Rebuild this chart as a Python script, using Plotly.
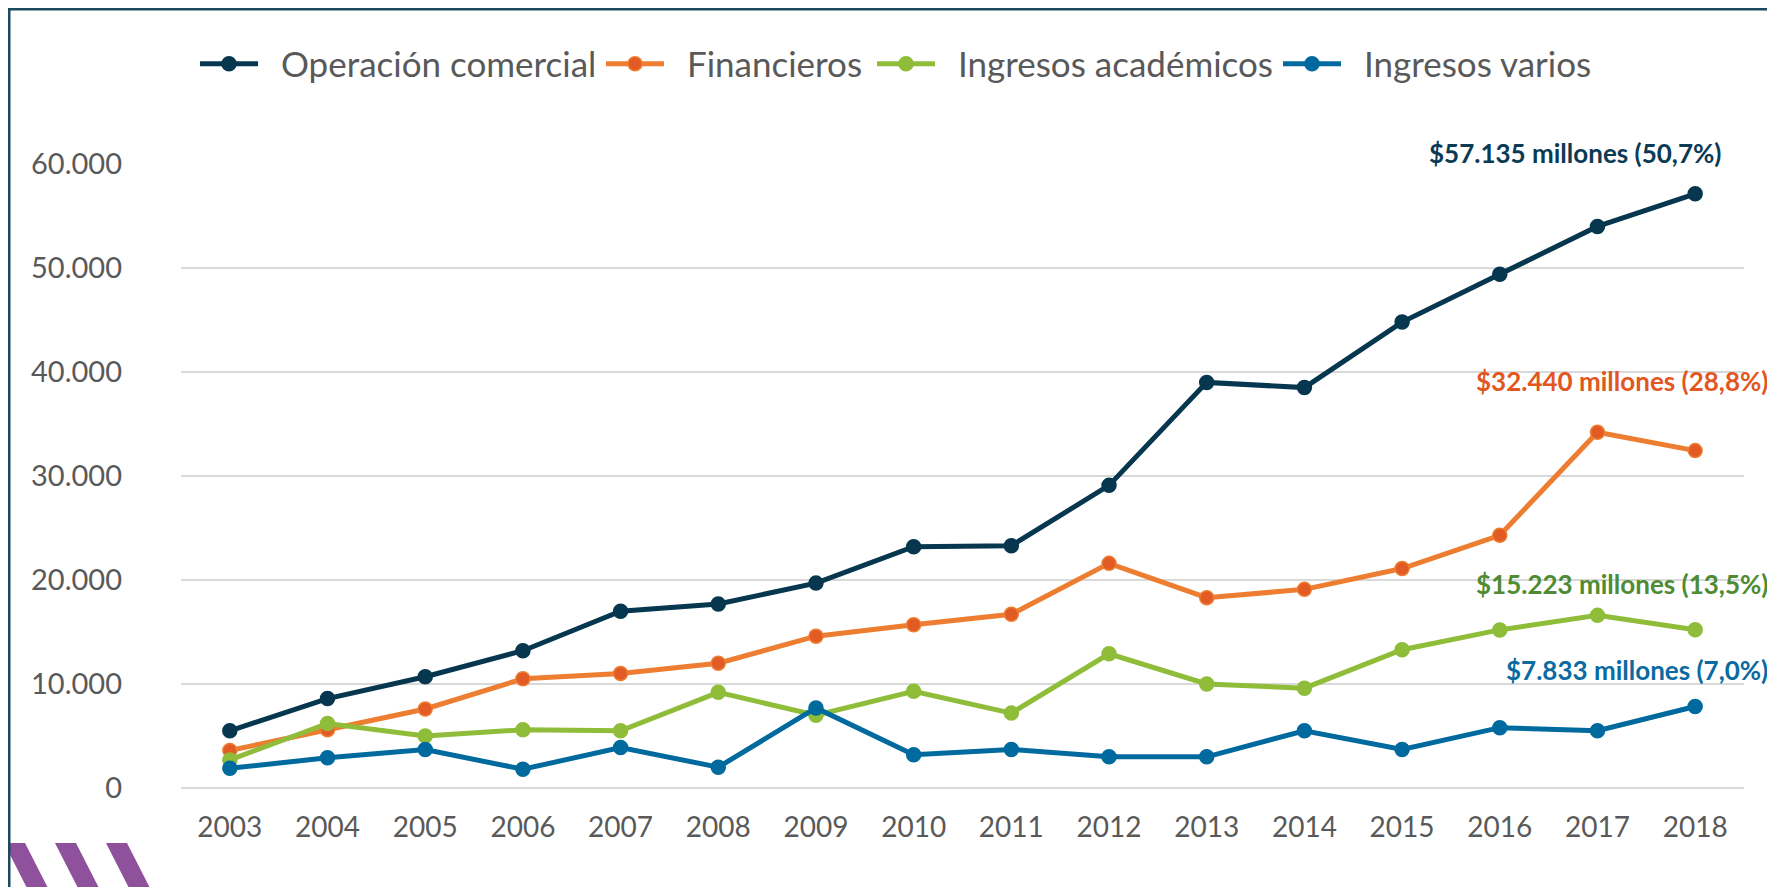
import plotly.graph_objects as go

years = [str(y) for y in range(2003, 2019)]
operacion = [5500, 8600, 10700, 13200, 17000, 17700, 19700, 23200, 23300, 29100, 39000, 38500, 44800, 49400, 54000, 57135]
financieros = [3600, 5600, 7600, 10500, 11000, 12000, 14600, 15700, 16700, 21600, 18300, 19100, 21100, 24300, 34200, 32440]
academicos = [2700, 6200, 5000, 5600, 5500, 9200, 7000, 9300, 7200, 12900, 10000, 9600, 13300, 15200, 16600, 15223]
varios = [1900, 2900, 3700, 1800, 3900, 2000, 7700, 3200, 3700, 3000, 3000, 5500, 3700, 5800, 5500, 7833]

names = ["Operación comercial", "Financieros", "Ingresos académicos", "Ingresos varios"]
series = [operacion, financieros, academicos, varios]
line_colors = ["#06374f", "#ed7d31", "#8fbd3a", "#006a9e"]
marker_colors = ["#06374f", "#e25b25", "#8fbd3a", "#006a9e"]
label_texts = ["$57.135 millones (50,7%)", "$32.440 millones (28,8%)",
               "$15.223 millones (13,5%)", "$7.833 millones (7,0%)"]
label_colors = ["#0b3a55", "#e2571f", "#4e8b32", "#0a6aa1"]
label_xshift = [28, 75, 75, 75]
label_yshift = [41, 70, 46, 37]
legend_left_px = [200, 606, 877, 1283]   # page pixel where each legend symbol starts

OFF = 8  # default body margin of the html page
W, H = 1775 - OFF, 887 - OFF
L, T = 181 - OFF, 164 - OFF
R = W - (1744 - OFF)
B = H - (788 - OFF)
PW, PH = W - L - R, H - T - B

def fx(p):
    return (p - OFF - L) / PW

def fy(p):
    return (H - B - (p - OFF)) / PH

FONT = "Lato, 'Open Sans', sans-serif"
NB = "\u00a0\u00a0"

fig = go.Figure()
legend_ids = ["legend", "legend2", "legend3", "legend4"]
for name, vals, lc, mc, lid in zip(names, series, line_colors, marker_colors, legend_ids):
    fig.add_trace(go.Scatter(
        x=years, y=vals, name=NB + name, mode="lines+markers",
        line=dict(color=lc, width=5),
        marker=dict(color=mc, size=14, line=dict(color=lc, width=1.5)),
        cliponaxis=False, legend=lid,
    ))

annotations = []
for txt, col, vals, xs, ys in zip(label_texts, label_colors, series, label_xshift, label_yshift):
    annotations.append(dict(
        x=len(years) - 1, y=vals[-1], xref="x", yref="y", text="<b>" + txt + "</b>",
        showarrow=False, xanchor="right", yanchor="middle",
        xshift=xs, yshift=ys, font=dict(family=FONT, size=26, color=col),
    ))

shapes = []
for x0 in [4, 55, 106]:
    shapes.append(dict(
        type="path", xref="paper", yref="paper", layer="above",
        path=f"M{fx(x0)},{fy(843)} L{fx(x0+21)},{fy(843)} L{fx(x0+46)},{fy(892)} L{fx(x0+25)},{fy(892)} Z",
        fillcolor="#8f519b", line=dict(width=0),
    ))
shapes.append(dict(type="line", xref="paper", yref="paper", x0=fx(9), x1=fx(1790), y0=fy(9), y1=fy(9),
                   line=dict(color="#1b4a5f", width=3), layer="above"))
shapes.append(dict(type="line", xref="paper", yref="paper", x0=fx(9), x1=fx(9), y0=fy(8), y1=fy(900),
                   line=dict(color="#1b4a5f", width=3), layer="above"))

legend_common = dict(
    orientation="h", xanchor="left", yanchor="middle", y=fy(64),
    font=dict(family=FONT, size=35, color="#595959"),
    itemwidth=58, bgcolor="rgba(0,0,0,0)",
)
legends = {}
for lid, lp in zip(legend_ids, legend_left_px):
    legends[lid] = dict(legend_common, x=fx(lp - 5))

fig.update_layout(
    width=W, height=H,
    margin=dict(l=L, r=R, t=T, b=B, autoexpand=False),
    paper_bgcolor="white", plot_bgcolor="white",
    font=dict(family=FONT, color="#595959"),
    showlegend=True,
    xaxis=dict(
        type="category", range=[-0.5, 15.5], showgrid=False, showline=False, zeroline=False,
        ticks="", tickfont=dict(family=FONT, size=28, color="#595959"),
        ticklabelstandoff=20, fixedrange=True,
    ),
    yaxis=dict(
        range=[0, 60000], dtick=10000, tick0=0, showgrid=True, gridcolor="#d9d9d9", gridwidth=1.6,
        zeroline=True, zerolinecolor="#d9d9d9", zerolinewidth=1.6, showline=False,
        ticks="", tickfont=dict(family=FONT, size=29, color="#595959"),
        tickformat=",d", ticklabelstandoff=58, fixedrange=True,
    ),
    separators=",.",
    annotations=annotations,
    shapes=shapes,
    **legends,
)

fig.write_html("out.html")
